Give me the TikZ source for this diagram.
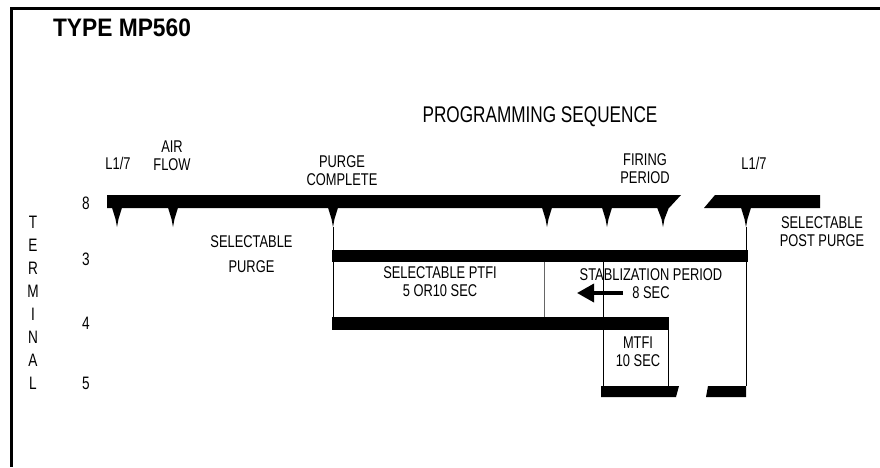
\documentclass[tikz,border=0pt]{standalone}
\usepackage{fontspec}
\setmainfont{Liberation Sans}[FakeStretch=0.757]
\newfontfamily\titlefont{Liberation Sans}[FakeStretch=0.9]
\usetikzlibrary{arrows.meta}
\begin{document}
\begin{tikzpicture}[x=1pt,y=-1pt,
  lbl/.style={inner sep=0pt, align=center, font=\fontsize{17}{18}\selectfont},
  numlbl/.style={inner sep=0pt, font=\fontsize{18}{18}\selectfont},
  bar/.style={fill=black},
  vline/.style={draw=black, line width=1pt},
  gline/.style={draw=black!60, line width=1pt},
  frameline/.style={draw=black, line width=2.5pt}]
\useasboundingbox (0,0) rectangle (880,467);
% frame
\coordinate (fr1) at (880,8.5);
\coordinate (fr2) at (11.5,8.5);
\coordinate (fr3) at (11.5,467);
\draw[frameline] (fr1) -- (fr2) -- (fr3);

% titles
\node[inner sep=0pt, font=\titlefont\bfseries\fontsize{25.3}{26}\selectfont] (title) at (122,27.5) {TYPE MP560};
\node[inner sep=0pt, font=\fontsize{22.7}{24}\selectfont] (prog) at (540,117) {PROGRAMMING SEQUENCE};

% top labels
\node[lbl] (l17a) at (118,163) {L1/7};
\node[lbl] (air) at (172,156) {AIR\\FLOW};
\node[lbl] (purge) at (342,171) {PURGE\\COMPLETE};
\node[lbl] (firing) at (645,168.5) {FIRING\\PERIOD};
\node[lbl] (l17b) at (754,163) {L1/7};
\node[lbl] (post) at (822,232) {SELECTABLE\\POST PURGE};

% inner labels
\node[lbl] (selp1) at (251.5,242) {SELECTABLE};
\node[lbl] (selp2) at (251.5,267) {PURGE};
\node[lbl] (ptfi) at (440,281.5) {SELECTABLE PTFI\\5 OR10 SEC};
\node[lbl] (stab) at (651,275) {STABLIZATION PERIOD};
\node[lbl] (stab2) at (651,293) {8 SEC};
\node[lbl] (mtfi) at (638,351.5) {MTFI\\10 SEC};

% terminal
\node[inner sep=0pt, align=center, font=\fontsize{18}{23}\selectfont] (term) at (33,303) {T\\E\\R\\M\\I\\N\\A\\L};
\node[numlbl] (t8) at (86,203) {8};
\node[numlbl] (t3) at (86,259) {3};
\node[numlbl] (t4) at (86,323) {4};
\node[numlbl] (t5) at (86,383) {5};

% bars
\fill[bar] (107,195) -- (681,195) -- (669,208) -- (107,208) -- cycle;
\fill[bar] (715,195) -- (820,195) -- (820,208) -- (704,208) -- cycle;
\fill[bar] (332,250) rectangle (748,262);
\fill[bar] (332,317) rectangle (669,330);
\fill[bar] (601,386) -- (679,386) -- (676,397) -- (601,397) -- cycle;
\fill[bar] (708,386) -- (746,386) -- (746,397) -- (706,397) -- cycle;

% spikes
\foreach \sx/\w/\nm in {117/5.5/s1,173/5.5/s2,333/5.5/s3,547/5.5/s4,607/5.5/s5,663/6.5/s6,746/5.5/s7}{
  \fill[bar] (\sx-\w,206) -- (\sx-1.5,219) -- (\sx,227) -- (\sx+1.5,219) -- (\sx+\w,206) -- cycle;
  \coordinate (\nm) at (\sx,227);
}

% vertical connectors
\coordinate (b4a) at (333,317);
\coordinate (g1) at (544,262);
\coordinate (g2) at (544,317);
\coordinate (m1) at (603,262);
\coordinate (m2) at (603,386);
\coordinate (r1) at (668.5,330);
\coordinate (r2) at (668.5,386);
\coordinate (p2) at (746,386);
\draw[vline] (s3) -- (b4a);
\draw[gline] (g1) -- (g2);
\draw[vline] (m1) -- (m2);
\draw[vline] (r1) -- (r2);
\draw[vline] (s7) -- (p2);

% arrow
\coordinate (a1) at (623,293);
\coordinate (a2) at (577,293);
\draw[line width=3.5pt, -{Triangle[length=17pt,width=18pt]}] (a1) -- (a2);
\end{tikzpicture}
\end{document}
